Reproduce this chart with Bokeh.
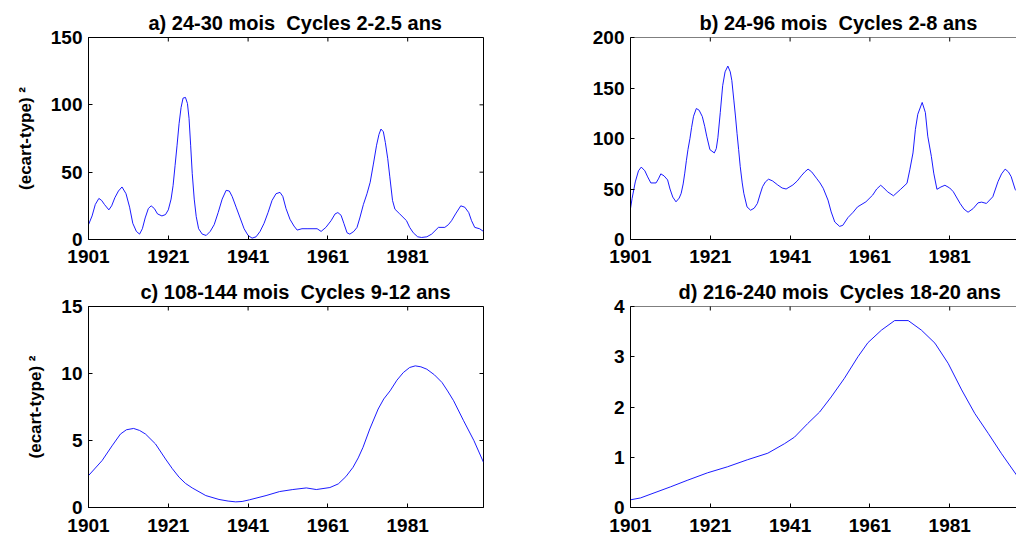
import math

from bokeh.plotting import figure
from bokeh.models import Range1d, LinearAxis, FixedTicker, Title, Span
from bokeh.layouts import column, row
from bokeh.embed import file_html
from bokeh.resources import INLINE

# --- a) 24-30 months band -------------------------------------------------
years_a = [1901.0, 1901.9, 1902.7, 1903.6, 1904.3, 1905.0, 1906.1, 1906.8, 1907.6,
           1908.5, 1909.4, 1910.4, 1911.3, 1912.1, 1913.0, 1913.8, 1914.5, 1915.2,
           1916.0, 1916.7, 1917.5, 1918.3, 1919.4, 1920.3, 1921.0, 1921.7, 1922.2,
           1922.7, 1923.2, 1923.7, 1924.2, 1924.7, 1925.3, 1925.8, 1926.2, 1926.6,
           1927.0, 1927.5, 1928.0, 1928.6, 1929.5, 1930.5, 1931.5, 1932.5, 1933.5,
           1934.5, 1935.5, 1936.3, 1937.0, 1938.0, 1939.0, 1940.0, 1941.0, 1942.0,
           1943.0, 1944.0, 1945.0, 1946.0, 1947.0, 1948.0, 1949.0, 1949.7, 1950.5,
           1951.5, 1952.5, 1953.3, 1954.5, 1956.0, 1958.3, 1959.3, 1960.5, 1961.8,
           1962.8, 1963.5, 1964.3, 1965.0, 1965.8, 1966.5, 1967.5, 1968.3, 1969.0,
           1969.9, 1970.8, 1971.6, 1972.4, 1973.2, 1973.8, 1974.3, 1974.9, 1975.4,
           1976.0, 1976.5, 1977.2, 1977.8, 1979.0, 1980.7, 1981.5, 1982.4, 1983.5,
           1984.5, 1985.8, 1987.0, 1988.7, 1990.3, 1991.2, 1992.0, 1993.0, 1994.3,
           1995.3, 1996.3, 1997.0, 1997.8, 1999.0, 2000.0]
var_a = [11, 17.5, 26, 30.5, 29, 26, 22, 25, 31,
         36, 39, 34, 24, 12, 6, 4, 8, 16,
         23, 25, 23, 19, 17.5, 18.5, 22, 30, 40,
         55, 70, 86, 98, 105, 105.5, 101, 90, 70,
         49, 30, 17, 8, 4, 3, 6, 11, 20,
         30, 36.5, 36, 32, 24, 16, 8, 3, 1,
         2, 6, 12, 20, 29, 34, 35, 32, 23,
         15, 10, 7, 8, 8, 8, 6, 9, 14,
         19, 20, 18, 12, 5, 4, 6, 9, 16,
         26, 34, 42.5, 56, 70, 78, 82, 80, 72,
         60, 47, 29, 22.5, 19, 14, 9, 5, 2,
         1.5, 2, 4, 9, 9, 11, 14, 19, 25,
         24, 20, 14, 9, 8, 6]

# --- b) 24-96 months band -------------------------------------------------
years_b = [1901.0, 1901.4, 1902.2, 1903.0, 1903.7, 1904.6, 1905.3, 1906.1, 1907.4,
           1908.0, 1908.6, 1909.4, 1910.3, 1910.9, 1911.6, 1912.4, 1913.2, 1913.7,
           1914.2, 1914.6, 1915.0, 1915.4, 1915.9, 1916.3, 1916.8, 1917.5, 1918.2,
           1919.0, 1919.6, 1920.1, 1920.9, 1922.0, 1922.5, 1922.9, 1923.5, 1924.1,
           1924.7, 1925.4, 1926.0, 1926.4, 1926.9, 1927.3, 1927.7, 1928.1, 1928.5,
           1929.0, 1929.4, 1930.2, 1931.1, 1932.0, 1932.8, 1933.5, 1934.1, 1934.8,
           1935.6, 1936.6, 1937.9, 1939.0, 1940.0, 1941.7, 1942.8, 1943.8, 1944.7,
           1945.5, 1946.4, 1947.6, 1948.5, 1949.3, 1950.5, 1951.3, 1952.2, 1953.4,
           1954.2, 1955.5, 1956.8, 1957.9, 1960.0, 1961.7, 1962.7, 1963.7, 1964.5,
           1965.4, 1966.9, 1968.7, 1970.3, 1971.0, 1971.8, 1972.4, 1973.0, 1974.1,
           1974.9, 1975.5, 1976.4, 1977.0, 1977.8, 1978.8, 1979.8, 1981.0, 1981.9,
           1983.6, 1984.6, 1985.6, 1986.9, 1988.1, 1989.0, 1990.2, 1991.8, 1993.1,
           1994.0, 1994.9, 1995.7, 1996.4, 1997.4, 1998.0]
var_b = [30.7, 40.7, 57, 68, 71.7, 68, 62, 56, 56,
         60, 65, 63, 59, 50, 42, 37.3, 41, 45.7,
         55, 65.7, 78, 89, 100, 110.7, 122, 129.7, 128,
         121.7, 112, 102.3, 89, 85.7, 90, 100.7, 125.7, 152.3,
         166, 171.7, 166, 157.3, 138, 122.3, 105, 89, 72.3,
         56, 45.7, 32.3, 29, 31, 35.7, 45, 52.3, 57,
         59.7, 58, 54, 51, 50, 54, 58, 63, 67,
         69.7, 67, 60.7, 56, 50.7, 39, 27.3, 17.3, 13,
         14, 21.7, 27, 32.3, 37.3, 44, 50, 53.7, 51,
         47.3, 43.3, 49.7, 55.7, 69, 85.7, 109, 124, 135.7,
         125.7, 102.3, 82.3, 65.7, 49.7, 52, 53.7, 51, 47.3,
         35.7, 30, 27, 30.7, 36.3, 37, 35.7, 42.3, 57.3,
         65, 69.7, 67, 62.3, 49.7, 47]

# --- c) 108-144 months band -----------------------------------------------
years_c = [1901.0, 1904.4, 1906.9, 1909.0, 1910.5, 1912.3, 1913.8, 1915.3, 1917.8,
           1920.3, 1922.0, 1923.7, 1925.3, 1927.0, 1930.4, 1933.7, 1936.0, 1937.9,
           1939.5, 1941.3, 1945.5, 1948.9, 1952.2, 1955.6, 1958.1, 1961.5, 1963.6,
           1965.5, 1967.3, 1968.6, 1969.8, 1971.5, 1973.6, 1975.0, 1976.6, 1978.3,
           1979.9, 1981.5, 1982.9, 1984.3, 1985.8, 1987.7, 1989.6, 1991.0, 1992.5,
           1995.0, 1997.6, 2000.0]
var_c = [2.38, 3.5, 4.6, 5.48, 5.8, 5.9, 5.75, 5.48, 4.74,
         3.62, 2.9, 2.26, 1.8, 1.46, 0.89, 0.6, 0.48, 0.42,
         0.45, 0.57, 0.89, 1.19, 1.34, 1.46, 1.34, 1.49, 1.76,
         2.3, 3.0, 3.7, 4.49, 5.86, 7.35, 8.1, 8.71, 9.5,
         10.07, 10.45, 10.57, 10.5, 10.32, 9.9, 9.33, 8.7, 7.97,
         6.48, 4.99, 3.37]

# --- d) 216-240 months band -----------------------------------------------
years_d = [1901.0, 1903.5, 1906.9, 1911.0, 1915.2, 1920.3, 1925.3, 1930.3, 1935.4,
           1939.6, 1942.1, 1945.4, 1948.4, 1951.3, 1954.6, 1958.0, 1960.5, 1963.9,
           1967.2, 1970.6, 1973.9, 1977.3, 1980.6, 1984.0, 1987.3, 1990.7, 1994.0,
           1997.8]
var_d = [0.153, 0.19, 0.29, 0.41, 0.54, 0.69, 0.81, 0.95, 1.08,
         1.27, 1.40, 1.67, 1.90, 2.2, 2.57, 3.0, 3.28, 3.53,
         3.72, 3.72, 3.53, 3.27, 2.87, 2.34, 1.87, 1.47, 1.07,
         0.64]

x_ticks = [1901, 1921, 1941, 1961, 1981]
y_ticks_a = [0, 50, 100, 150]
y_ticks_b = [0, 50, 100, 150, 200]
y_ticks_c = [0, 5, 10, 15]
y_ticks_d = [0, 1, 2, 3, 4]

NB = "\u00a0"
titles = ["a) 24-30 mois" + NB + " Cycles 2-2.5 ans",
          "b) 24-96 mois" + NB + " Cycles 2-8 ans",
          "c) 108-144 mois" + NB + " Cycles 9-12 ans",
          "d) 216-240 mois" + NB + " Cycles 18-20 ans"]
y_label = "(ecart-type) \u00b2"

FONT = "Liberation Sans"
X0 = 1901.0
X_END_FULL = 2000.0
X_END_CUT = 1997.74


def style_axis(ax, standoff):
    ax.axis_line_color = "black"
    ax.axis_line_width = 1
    ax.major_tick_line_color = "black"
    ax.major_tick_in = 4
    ax.major_tick_out = 0
    ax.minor_tick_line_color = None
    ax.major_label_text_font = FONT
    ax.major_label_text_font_style = "bold"
    ax.major_label_text_font_size = "19px"
    ax.major_label_text_color = "black"
    ax.major_label_standoff = standoff


def panel(xs, ys, title, title_offset, yticks, ymax, xend, width, height,
          left, right, top, bottom, x_standoff, ylabel=None, full_box=True):
    p = figure(width=width, height=height,
               x_range=Range1d(X0, xend), y_range=Range1d(0, ymax),
               x_axis_location=None, y_axis_location=None,
               output_backend="svg", toolbar_location=None,
               min_border_left=left, min_border_right=right,
               min_border_top=top, min_border_bottom=bottom,
               background_fill_color="white", border_fill_color="white")
    p.grid.grid_line_color = None

    xb = LinearAxis(ticker=FixedTicker(ticks=x_ticks))
    style_axis(xb, x_standoff)
    p.add_layout(xb, "below")

    yl = LinearAxis(ticker=FixedTicker(ticks=yticks))
    style_axis(yl, 6)
    if ylabel:
        yl.axis_label = ylabel
        yl.axis_label_text_font = FONT
        yl.axis_label_text_font_size = "17px"
        yl.axis_label_text_font_style = "bold"
        yl.axis_label_text_color = "black"
        yl.axis_label_standoff = 13
    p.add_layout(yl, "left")

    # box: full outline, or only the top edge when the right side runs off
    if full_box:
        p.outline_line_color = "black"
        p.outline_line_width = 1
        p.scatter([xend] * len(yticks), yticks, marker="dash", size=8,
                  line_color="black", line_width=1)
    else:
        p.outline_line_color = None
        p.add_layout(Span(location=ymax, dimension="width",
                          line_color="black", line_width=1))
    # inward ticks along the top edge
    p.scatter(x_ticks, [ymax] * len(x_ticks), marker="dash", size=8,
              angle=math.pi / 2, line_color="black", line_width=1)

    p.title = Title(text=title, align="left", offset=title_offset,
                    text_font=FONT, text_font_size="20px",
                    text_font_style="bold", text_color="black", standoff=8)

    p.line(xs, ys, line_color="#0000ff", line_width=0.9)
    return p


# row 1: frame 37..239 px; row 2: frame 306..507 px (bottom clipped at 534)
pa = panel(years_a, var_a, titles[0], 60, y_ticks_a, 150, X_END_FULL,
           500, 272, 88, 17, 37, 33, 10, ylabel=y_label)
pb = panel(years_b, var_b, titles[1], 69, y_ticks_b, 200, X_END_CUT,
           516, 272, 130, 0, 37, 33, 10, full_box=False)
pc = panel(years_c, var_c, titles[2], 52, y_ticks_c, 15, X_END_FULL,
           500, 270, 88, 17, 34, 35, 11, ylabel=y_label)
pd = panel(years_d, var_d, titles[3], 48, y_ticks_d, 4, X_END_CUT,
           516, 270, 130, 0, 34, 35, 11, full_box=False)

layout = column(row(pa, pb), row(pc, pd), width=1016, height=534,
                stylesheets=[":host { overflow: hidden; }"])

open("out.html", "w").write(file_html(layout, INLINE))
